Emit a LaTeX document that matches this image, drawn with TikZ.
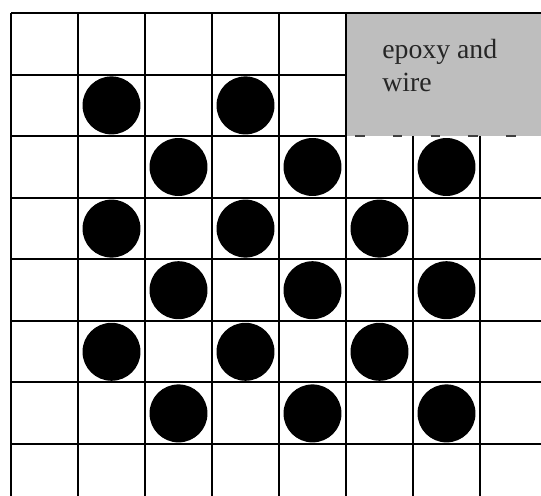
\documentclass[tikz,border=0pt]{standalone}
\usepackage{fontspec}
\setmainfont{Liberation Serif}
\definecolor{epoxygray}{HTML}{BEBEBE}
\tikzset{
  gridline/.style={draw=black, line width=1.1pt},
  seam/.style={draw=black!75, line width=0.7pt, dash pattern=on 5.5pt off 16pt},
  epoxy/.style={fill=epoxygray},
  dot/.style={circle, fill=black, minimum size=1.16cm, inner sep=0pt},
}

\begin{document}
\begin{tikzpicture}[x=0.02cm, y=-0.02cm]
    \useasboundingbox (0,0) rectangle (541,496);
    \fill[white] (0,0) rectangle (541,496);
    % epoxy and wire block, top right
    \fill[epoxy] (346,13) rectangle (541,136);
    \node[anchor=north west, inner sep=0pt, align=left, text=black!85,
          font=\fontsize{15.8}{19}\selectfont] (label) at (382,39) {epoxy and\\wire};
    % grid
    \foreach \x in {11,78,145,212,279,346} \draw[gridline] (\x,13) -- (\x,496);
    \foreach \x in {413,480} \draw[gridline] (\x,136) -- (\x,496);
    \draw[gridline] (11,13) -- (541,13);
    \draw[gridline] (11,74.6) -- (346,74.6);
    \draw[gridline] (11,136) -- (346,136);
    \draw[seam] (355,136) -- (541,136);
    \foreach \y in {197.6,259.2,320.8,382.4,444} \draw[gridline] (11,\y) -- (541,\y);
    % dots
    \node[dot] (d11) at (111.5,105.4) {};
    \node[dot] (d13) at (245.5,105.4) {};
    \node[dot] (d22) at (178.5,167) {};
    \node[dot] (d24) at (312.5,167) {};
    \node[dot] (d26) at (446.5,167) {};
    \node[dot] (d31) at (111.5,228.6) {};
    \node[dot] (d33) at (245.5,228.6) {};
    \node[dot] (d35) at (379.5,228.6) {};
    \node[dot] (d42) at (178.5,290.2) {};
    \node[dot] (d44) at (312.5,290.2) {};
    \node[dot] (d46) at (446.5,290.2) {};
    \node[dot] (d51) at (111.5,351.8) {};
    \node[dot] (d53) at (245.5,351.8) {};
    \node[dot] (d55) at (379.5,351.8) {};
    \node[dot] (d62) at (178.5,413.4) {};
    \node[dot] (d64) at (312.5,413.4) {};
    \node[dot] (d66) at (446.5,413.4) {};
  \end{tikzpicture}
\end{document}
